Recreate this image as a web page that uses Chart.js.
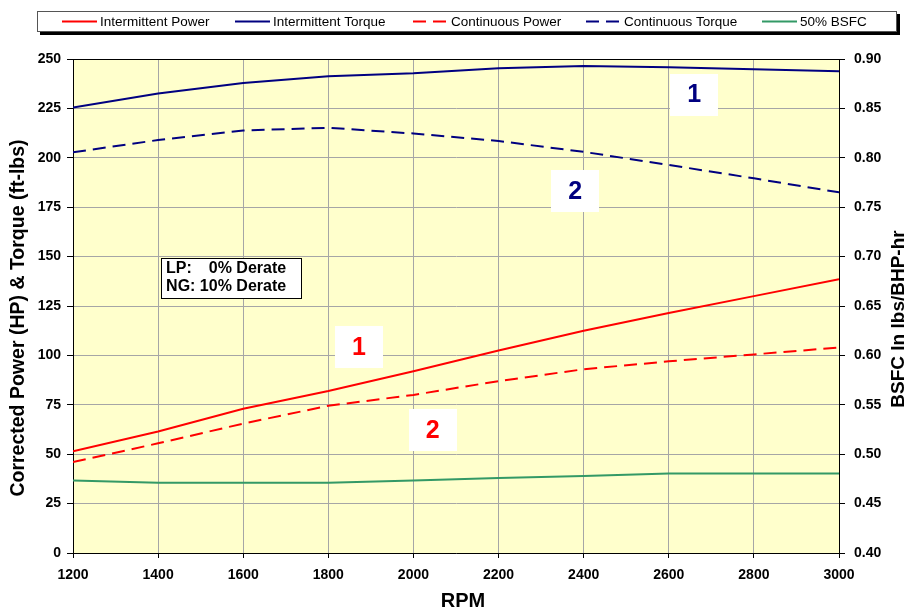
<!DOCTYPE html>
<html><head><meta charset="utf-8">
<script src="https://cdn.jsdelivr.net/npm/chart.js@4/dist/chart.umd.min.js"></script>
<style>html,body{margin:0;padding:0;background:#fff}</style>
</head><body>
<canvas id="c" width="906" height="609"></canvas>
<script>
// ---- data ----
const rpm = [1200, 1400, 1600, 1800, 2000, 2200, 2400, 2600, 2800, 3000];
const intermittentPower = [51.5, 61.5, 73, 82, 92, 102.5, 112.5, 121.5, 130, 138.5];
const intermittentTorque = [225.5, 232.5, 237.8, 241.3, 242.8, 245.3, 246.4, 245.8, 244.8, 243.8];
const continuousPower = [46, 55.5, 65.5, 74.5, 80, 87, 93, 97, 100.5, 104];
const continuousTorque = [202.8, 209, 213.8, 215.2, 212.3, 208.5, 203, 196.4, 189.6, 182.5];
const bsfc = [0.4735, 0.471, 0.471, 0.471, 0.4735, 0.476, 0.478, 0.4805, 0.4805, 0.4805];
const seriesLabels = ['Intermittent Power', 'Intermittent Torque', 'Continuous Power', 'Continuous Torque', '50% BSFC'];
const leftTicks = {min: 0, max: 250, step: 25};
const rightTicks = {min: 0.40, max: 0.90, step: 0.05};
const xTicks = {min: 1200, max: 3000, step: 200};
// annotation labels (data coordinates)
const curveTags = [
  {text: '1', x: 1872, y: 104, axis: 'y', color: '#ff0000'},
  {text: '2', x: 2045, y: 62, axis: 'y', color: '#ff0000'},
  {text: '1', x: 2660, y: 232, axis: 'y', color: '#000080'},
  {text: '2', x: 2380, y: 183, axis: 'y', color: '#000080'}
];
const derateNote = ['LP:', '0% Derate', 'NG: 10% Derate'];

const pts = (ys) => rpm.map((x, i) => ({x: x, y: ys[i]}));
const RED = '#ff0000', NAVY = '#000080', GREEN = '#339966';
const F = '"Liberation Sans", Arial, sans-serif';

const decor = {
  id: 'decor',
  beforeDraw(chart) {
    const {ctx, chartArea: a} = chart;
    ctx.save();
    ctx.fillStyle = '#ffffff';
    ctx.fillRect(0, 0, chart.width, chart.height);
    ctx.fillStyle = '#ffffcc';
    ctx.fillRect(a.left, a.top, a.right - a.left, a.bottom - a.top);
    ctx.restore();
  },
  afterDatasetsDraw(chart) {
    const {ctx, scales} = chart;
    ctx.save();
    // curve tags
    curveTags.forEach(t => {
      const cx = scales.x.getPixelForValue(t.x);
      const cy = scales[t.axis].getPixelForValue(t.y);
      ctx.fillStyle = '#ffffff';
      ctx.fillRect(Math.round(cx - 24), Math.round(cy - 21), 48, 42);
      ctx.fillStyle = t.color;
      ctx.font = 'bold 25px ' + F;
      ctx.textAlign = 'center';
      ctx.textBaseline = 'middle';
      ctx.fillText(t.text, cx, cy + 1);
    });
    // derate note box
    const bx0 = scales.x.getPixelForValue(1407), bx1 = scales.x.getPixelForValue(1736);
    const by0 = scales.y.getPixelForValue(149.3), by1 = scales.y.getPixelForValue(129);
    ctx.fillStyle = '#ffffff';
    ctx.fillRect(bx0, by0, bx1 - bx0, by1 - by0);
    ctx.strokeStyle = '#000000';
    ctx.lineWidth = 1;
    ctx.strokeRect(Math.round(bx0) + 0.5, Math.round(by0) + 0.5, Math.round(bx1 - bx0), Math.round(by1 - by0));
    ctx.fillStyle = '#000000';
    ctx.font = 'bold 16px ' + F;
    ctx.textBaseline = 'middle';
    const lx = bx0 + 5;
    const w2 = ctx.measureText(derateNote[2]).width;
    const my = (by0 + by1) / 2;
    ctx.textAlign = 'left';
    ctx.fillText(derateNote[0], lx, my - 9);
    ctx.fillText(derateNote[2], lx, my + 9);
    ctx.textAlign = 'right';
    ctx.fillText(derateNote[1], lx + w2, my - 9);
    ctx.restore();
  },
  afterDraw(chart) {
    const {ctx, chartArea: a} = chart;
    ctx.save();
    // top frame line
    ctx.strokeStyle = '#000000';
    ctx.lineWidth = 1;
    ctx.beginPath();
    ctx.moveTo(a.left, a.top + 0.5);
    ctx.lineTo(a.right, a.top + 0.5);
    ctx.stroke();
    // axis titles
    ctx.fillStyle = '#000000';
    ctx.textAlign = 'center';
    ctx.textBaseline = 'middle';
    ctx.font = 'bold 20px ' + F;
    ctx.fillText('RPM', 463, 601);
    ctx.save();
    ctx.font = 'bold 19.5px ' + F;
    ctx.translate(19, 318);
    ctx.rotate(-Math.PI / 2);
    ctx.fillText('Corrected Power (HP) & Torque (ft-lbs)', 0, 0);
    ctx.restore();
    ctx.save();
    ctx.font = 'bold 19px ' + F;
    ctx.translate(899, 319);
    ctx.rotate(-Math.PI / 2);
    ctx.fillText('BSFC In lbs/BHP-hr', 0, 0);
    ctx.restore();
    // legend
    ctx.fillStyle = '#000000';
    ctx.fillRect(40, 14, 860, 21);
    ctx.fillStyle = '#ffffff';
    ctx.fillRect(37, 11, 860, 21);
    ctx.strokeStyle = '#555555';
    ctx.strokeRect(37.5, 11.5, 859, 20);
    const starts = [62, 235, 413, 586, 762];
    ctx.font = '13.5px ' + F;
    ctx.textAlign = 'left';
    ctx.textBaseline = 'middle';
    chart.data.datasets.forEach((ds, i) => {
      const sx = starts[i];
      ctx.strokeStyle = ds.borderColor;
      ctx.lineWidth = 2;
      ctx.setLineDash(ds.borderDash || []);
      ctx.beginPath();
      ctx.moveTo(sx, 21.5);
      ctx.lineTo(sx + 35, 21.5);
      ctx.stroke();
      ctx.setLineDash([]);
      ctx.fillStyle = '#000000';
      ctx.fillText(ds.label, sx + 38, 22);
    });
    ctx.restore();
  }
};

new Chart(document.getElementById('c'), {
  type: 'line',
  data: {
    datasets: [
      {label: seriesLabels[0], data: pts(intermittentPower), borderColor: RED, yAxisID: 'y'},
      {label: seriesLabels[1], data: pts(intermittentTorque), borderColor: NAVY, yAxisID: 'y'},
      {label: seriesLabels[2], data: pts(continuousPower), borderColor: RED, borderDash: [13, 7], yAxisID: 'y'},
      {label: seriesLabels[3], data: pts(continuousTorque), borderColor: NAVY, borderDash: [13, 7], yAxisID: 'y'},
      {label: seriesLabels[4], data: pts(bsfc), borderColor: GREEN, yAxisID: 'y1'}
    ]
  },
  options: {
    responsive: false,
    animation: false,
    devicePixelRatio: 1,
    layout: {padding: {top: 59, left: 0, right: 0, bottom: 0}},
    elements: {
      line: {borderWidth: 2, tension: 0, fill: false},
      point: {radius: 0, hoverRadius: 0}
    },
    plugins: {legend: {display: false}, tooltip: {enabled: false}},
    scales: {
      x: {
        type: 'linear', min: xTicks.min, max: xTicks.max,
        afterFit(s) { s.height = 56; },
        ticks: {stepSize: xTicks.step, color: '#000', padding: 9, font: {family: F, weight: 'bold', size: 14}, callback: v => String(v), maxRotation: 0},
        grid: {color: '#a6a6a6', tickColor: '#000', tickLength: 5, lineWidth: 1},
        border: {color: '#000', width: 1}
      },
      y: {
        position: 'left', min: leftTicks.min, max: leftTicks.max,
        afterFit(s) { s.width = 73; },
        ticks: {stepSize: leftTicks.step, color: '#000', padding: 6, font: {family: F, weight: 'bold', size: 14}, callback: v => String(v)},
        grid: {color: '#a6a6a6', tickColor: '#000', tickLength: 6, lineWidth: 1},
        border: {color: '#000', width: 1}
      },
      y1: {
        position: 'right', min: rightTicks.min, max: rightTicks.max,
        afterFit(s) { s.width = 67; },
        ticks: {stepSize: rightTicks.step, color: '#000', padding: 9, font: {family: F, weight: 'bold', size: 14}, callback: v => Number(v).toFixed(2)},
        grid: {drawOnChartArea: false, tickColor: '#000', tickLength: 6},
        border: {color: '#000', width: 1}
      }
    }
  },
  plugins: [decor]
});
</script>
</body></html>
